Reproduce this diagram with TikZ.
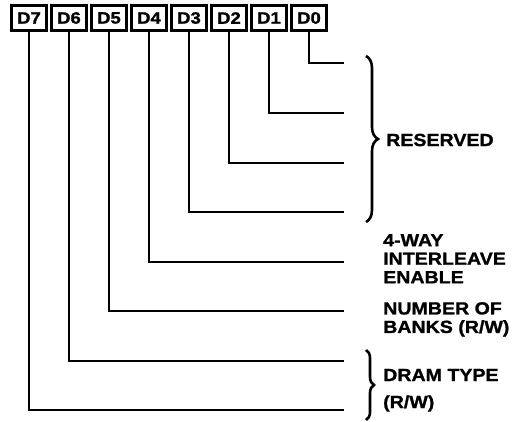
\documentclass[tikz,border=0pt]{standalone}
\usepackage{fontspec}
\setmainfont{Liberation Sans}[FakeStretch=1.12,FakeBold=1.2]
\usetikzlibrary{decorations.pathreplacing}
\begin{document}
\begin{tikzpicture}[x=1pt,y=-1pt,
  wire/.style={line width=2.4pt,line join=miter},
  bitbox/.style={draw,line width=2.2pt,minimum width=35pt,minimum height=25pt,inner sep=0pt,
    font=\fontsize{16.5}{16.5}\selectfont\bfseries},
  lbl/.style={inner sep=0pt,align=left,font=\fontsize{17.5}{18.5}\selectfont\bfseries},
  brc/.style={decorate,decoration={brace,amplitude=12pt},line width=2.6pt}]
\useasboundingbox (0,0) rectangle (520,422);
% bit boxes
\foreach \b [count=\i from 0] in {7,6,5,4,3,2,1,0}{
  \node[bitbox] (d\b) at ({29+40*\i},18) {D\b};
}
% right ends of the lines
\coordinate (r0) at (344,63);
\coordinate (r1) at (344,113);
\coordinate (r2) at (344,163);
\coordinate (r3) at (344,212);
\coordinate (r4) at (344,262);
\coordinate (r5) at (344,311);
\coordinate (r6) at (344,361);
\coordinate (r7) at (344,410);
\foreach \b in {0,...,7}{
  \draw[wire] (d\b.south) |- (r\b);
}
% braces
\coordinate (bt) at (366,56);
\coordinate (bb) at (366,222);
\draw[brc] (bt) -- (bb);
\coordinate (ct) at (366,350);
\coordinate (cb) at (366,420);
\draw[brc,decoration={brace,amplitude=8pt}] (ct) -- (cb);
% labels
\node[lbl,anchor=west] (res) at (386,140) {RESERVED};
\node[lbl,anchor=north west] (way) at (383,234) {4-WAY\\INTERLEAVE\\ENABLE};
\node[lbl,anchor=north west] (nob) at (383,302) {NUMBER OF\\BANKS (R/W)};
\node[lbl,anchor=west] (dram) at (383,375) {DRAM TYPE};
\node[lbl,anchor=base west] (rw) at (383,408) {(R/W)};
\end{tikzpicture}
\end{document}
